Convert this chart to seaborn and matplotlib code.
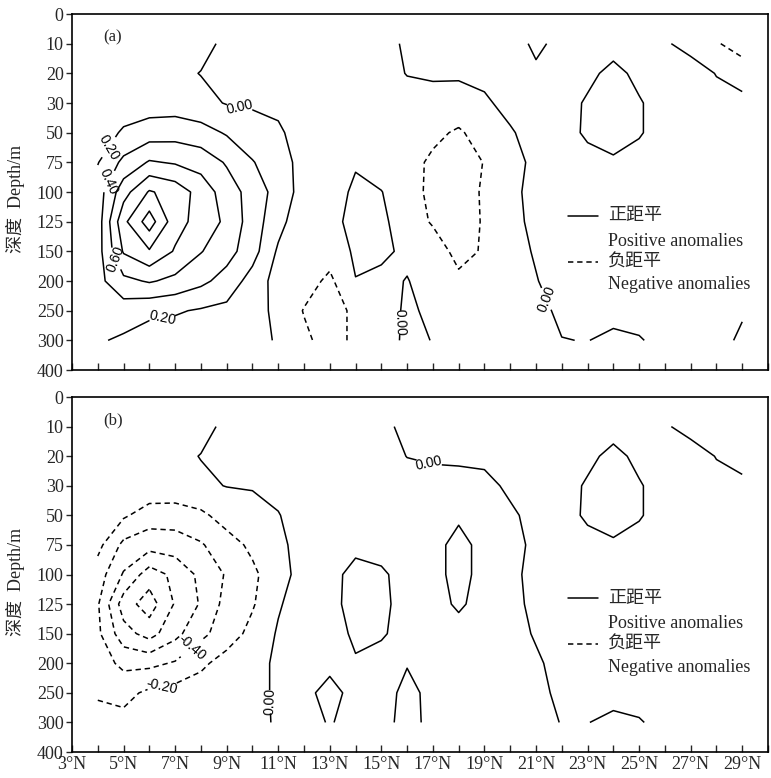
import matplotlib
matplotlib.use("Agg")
import matplotlib.pyplot as plt
import seaborn as sns
import numpy as np

sns.set_theme(style="ticks")
plt.rcParams["font.family"] = ["Liberation Serif", "Noto Sans CJK SC", "DejaVu Sans"]

# grid: longitudes (deg N) and depth levels (m) of the anomaly field
lons = list(range(4, 30))
depths = [10, 20, 30, 50, 75, 100, 125, 150, 200, 250, 300]
depth_ticks = [0, 10, 20, 30, 50, 75, 100, 125, 150, 200, 250, 300, 400]

# panel (a): one row per depth level, lon 4..15 | 16..29
a_10 = [0.10, 0.10, 0.08, 0.07, 0.05, -0.035, -0.08, -0.10, -0.10, -0.10, -0.09, -0.07,
        0.03, 0.08, 0.10, 0.10, 0.04, 0.27, 0.10, 0.08, 0.10, 0.08, 0.03, -0.09, -0.18, -0.30]
a_20 = [0.10, 0.10, 0.08, 0.04, -0.005, -0.06, -0.08, -0.10, -0.10, -0.10, -0.10, -0.10,
        0.01, 0.03, 0.02, 0.05, 0.08, 0.14, 0.12, 0.14, 0.27, 0.14, 0.12, 0.12, -0.01, -0.08]
a_30 = [0.08, 0.12, 0.10, 0.10, 0.05, -0.01, -0.03, -0.06, -0.10, -0.10, -0.10, -0.10,
        -0.10, -0.08, -0.06, -0.03, 0.06, 0.10, 0.10, 0.23, 0.32, 0.22, 0.10, 0.10, 0.08, 0.05]
a_50 = [0.12, 0.22, 0.30, 0.32, 0.28, 0.18, 0.10, 0.04, -0.12, -0.12, -0.10, -0.12,
        -0.10, -0.15, -0.23, -0.10, -0.02, 0.08, 0.10, 0.24, 0.35, 0.22, 0.10, 0.10, 0.10, 0.08]
a_75 = [0.19, 0.45, 0.62, 0.58, 0.52, 0.38, 0.21, 0.10, -0.08, -0.10, -0.03, -0.08,
        -0.12, -0.24, -0.33, -0.19, -0.06, 0.04, 0.10, 0.12, 0.15, 0.12, 0.10, 0.10, 0.10, 0.08]
a_100 = [0.30, 0.72, 1.02, 0.92, 0.72, 0.50, 0.32, 0.12, -0.08, -0.15, 0.06, 0.005,
         -0.10, -0.26, -0.35, -0.16, -0.045, 0.055, 0.10, 0.10, 0.10, 0.10, 0.10, 0.10, 0.10, 0.08]
a_125 = [0.30, 0.95, 1.30, 0.88, 0.72, 0.56, 0.30, 0.07, -0.15, -0.10, 0.10, 0.06,
         -0.15, -0.21, -0.30, -0.18, -0.055, 0.045, 0.10, 0.10, 0.10, 0.10, 0.10, 0.10, 0.10, 0.10]
a_150 = [0.32, 0.82, 0.98, 0.78, 0.61, 0.48, 0.28, -0.03, -0.15, -0.12, 0.03, 0.05,
         -0.05, -0.15, -0.23, -0.19, -0.08, 0.02, 0.10, 0.10, 0.10, 0.10, 0.10, 0.10, 0.10, 0.10]
a_200 = [0.34, 0.55, 0.62, 0.55, 0.45, 0.32, 0.12, -0.08, -0.12, -0.24, -0.005, -0.06,
         0.01, -0.10, -0.18, -0.12, -0.10, -0.01, 0.09, 0.12, 0.12, 0.12, 0.10, 0.10, 0.10, 0.10]
a_250 = [0.30, 0.30, 0.24, 0.22, 0.18, 0.15, 0.08, -0.05, -0.21, -0.30, -0.15, -0.15,
         0.05, -0.06, -0.10, -0.10, -0.10, -0.12, 0.08, 0.12, 0.15, 0.10, 0.10, 0.08, 0.06, 0.03]
a_300 = [0.22, 0.17, 0.12, 0.10, 0.08, 0.06, 0.05, -0.015, -0.16, -0.28, -0.16, -0.19,
         0.08, -0.01, -0.05, -0.10, -0.12, -0.15, -0.01, 0.01, -0.10, -0.02, 0.08, 0.10, 0.10, -0.05]

# panel (b)
b_10 = [-0.10, -0.10, -0.08, -0.07, -0.05, 0.035, 0.08, 0.10, 0.10, 0.10, 0.09, 0.05,
        -0.05, -0.08, -0.10, -0.10, -0.08, -0.10, -0.10, -0.10, -0.10, -0.10, -0.03, 0.09, 0.12, 0.15]
b_20 = [-0.10, -0.10, -0.08, -0.04, 0.005, 0.06, 0.08, 0.10, 0.10, 0.10, 0.10, 0.10,
        -0.005, -0.03, -0.03, -0.05, -0.08, -0.08, -0.08, -0.06, 0.07, -0.06, -0.08, -0.12, 0.01, 0.08]
b_30 = [-0.05, -0.07, -0.05, -0.06, -0.03, 0.005, 0.01, 0.06, 0.10, 0.10, 0.10, 0.10,
        0.10, 0.08, 0.06, 0.06, -0.04, -0.10, -0.10, 0.03, 0.12, 0.02, -0.10, -0.10, -0.08, -0.05]
b_50 = [-0.08, -0.17, -0.30, -0.30, -0.24, -0.12, -0.05, -0.01, 0.10, 0.10, 0.10, 0.10,
        0.10, 0.10, 0.15, 0.10, 0.035, -0.065, -0.10, 0.04, 0.15, 0.02, -0.10, -0.10, -0.10, -0.10]
b_75 = [-0.14, -0.45, -0.52, -0.50, -0.42, -0.28, -0.16, -0.06, 0.10, 0.10, 0.12, 0.10,
        0.10, 0.10, 0.30, 0.10, 0.06, -0.04, -0.10, -0.08, -0.05, -0.08, -0.10, -0.10, -0.10, -0.10]
b_100 = [-0.30, -0.62, -0.90, -0.75, -0.55, -0.38, -0.24, -0.08, 0.08, 0.10, 0.30, 0.24,
         0.10, 0.10, 0.30, 0.10, 0.045, -0.055, -0.10, -0.10, -0.10, -0.10, -0.10, -0.10, -0.10, -0.10]
b_125 = [-0.38, -0.90, -1.10, -0.78, -0.58, -0.33, -0.22, -0.02, 0.10, 0.10, 0.32, 0.26,
         0.10, 0.10, 0.24, 0.10, 0.055, -0.045, -0.10, -0.10, -0.10, -0.10, -0.10, -0.10, -0.10, -0.10]
b_150 = [-0.36, -0.72, -0.88, -0.66, -0.45, -0.30, -0.14, 0.02, 0.10, 0.10, 0.24, 0.23,
         0.10, 0.10, 0.10, 0.10, 0.08, -0.02, -0.10, -0.10, -0.10, -0.10, -0.10, -0.10, -0.10, -0.10]
b_200 = [-0.30, -0.45, -0.45, -0.38, -0.24, -0.12, -0.06, 0.03, 0.10, 0.12, 0.18, 0.10,
         0.18, 0.10, 0.10, 0.10, 0.10, 0.03, -0.07, -0.10, -0.10, -0.10, -0.10, -0.10, -0.10, -0.10]
b_250 = [-0.21, -0.26, -0.16, -0.12, -0.10, -0.08, -0.06, 0.03, 0.12, 0.30, 0.10, 0.05,
         0.30, 0.10, 0.10, 0.10, 0.10, 0.055, -0.045, -0.10, -0.15, -0.10, -0.10, -0.10, -0.10, -0.06]
b_300 = [-0.17, -0.14, -0.10, -0.08, -0.06, -0.05, -0.05, 0.02, 0.10, 0.22, 0.10, 0.08,
         0.32, 0.10, 0.10, 0.10, 0.10, 0.09, -0.01, -0.01, 0.10, 0.02, -0.08, -0.10, -0.10, -0.08]

field_a = np.array([a_10, a_20, a_30, a_50, a_75, a_100, a_125, a_150, a_200, a_250, a_300])
field_b = np.array([b_10, b_20, b_30, b_50, b_75, b_100, b_125, b_150, b_200, b_250, b_300])

levels = [i / 10 for i in range(-12, 15, 2)]
styles = [(0, (3.5, 2.5)) if lv < 0 else "solid" for lv in levels]

# where the inline labels sit (lon, depth index)
labels_a = [(9.5, 3.15), (4.45, 4.5), (4.45, 5.65), (4.68, 8.25), (6.5, 10.25),
            (15.73, 10.4), (21.4, 9.6)]
labels_b = [(16.85, 2.24), (7.8, 8.6), (6.5, 9.78), (10.69, 10.3)]

fig = plt.figure(figsize=(7.71, 7.78), dpi=100)
ax_a = fig.add_axes([0.0934, 0.5244, 0.9027, 0.4576])
ax_b = fig.add_axes([0.0934, 0.0334, 0.9027, 0.4563])

ypos = [depth_ticks.index(d) for d in depths]
xt = list(range(3, 31))
xlab = [f"{d}°N" if d % 2 == 1 and d < 30 else "" for d in xt]

for ax, field, labs, tag in [(ax_a, field_a, labels_a, "(a)"), (ax_b, field_b, labels_b, "(b)")]:
    cs = ax.contour(lons, ypos, field, levels=levels, colors="black",
                    linewidths=1.1, linestyles=styles)
    txt = ax.clabel(cs, fmt="%1.2f", manual=labs, inline=True, fontsize=10, inline_spacing=2)
    for t in txt:
        t.set_fontfamily("Liberation Sans")

    ax.set_xlim(3, 30)
    ax.set_ylim(12, 0)
    ax.set_yticks(range(13))
    ax.set_yticklabels(depth_ticks, fontsize=13)
    ax.set_xticks(xt)
    ax.set_xticklabels(xlab, fontsize=13)
    ax.tick_params(axis="x", direction="in", length=5, width=1, pad=3)
    ax.tick_params(axis="y", direction="out", length=4, width=1, pad=2)
    for sp in ax.spines.values():
        sp.set_linewidth(1.2)
        sp.set_color("black")
    ax.set_ylabel("深度  Depth/m", fontsize=13)
    ax.yaxis.set_label_coords(-0.068, 0.48)
    ax.text(0.045, 0.935, tag, transform=ax.transAxes, fontsize=12, va="center")

    # legend drawn by hand, as in the figure
    ax.plot([0.713, 0.756], [0.433, 0.433], color="black", lw=1.1, transform=ax.transAxes)
    ax.plot([0.713, 0.756], [0.303, 0.303], color="black", lw=1.1, ls=(0, (3.5, 2.5)),
            transform=ax.transAxes)
    ax.text(0.770, 0.433, "正距平", transform=ax.transAxes, fontsize=13, va="center")
    ax.text(0.770, 0.362, "Positive anomalies", transform=ax.transAxes, fontsize=13, va="center")
    ax.text(0.770, 0.303, "负距平", transform=ax.transAxes, fontsize=13, va="center")
    ax.text(0.770, 0.239, "Negative anomalies", transform=ax.transAxes, fontsize=13, va="center")

ax_a.tick_params(axis="x", labelbottom=False)

fig.savefig("out.png", dpi=100)
